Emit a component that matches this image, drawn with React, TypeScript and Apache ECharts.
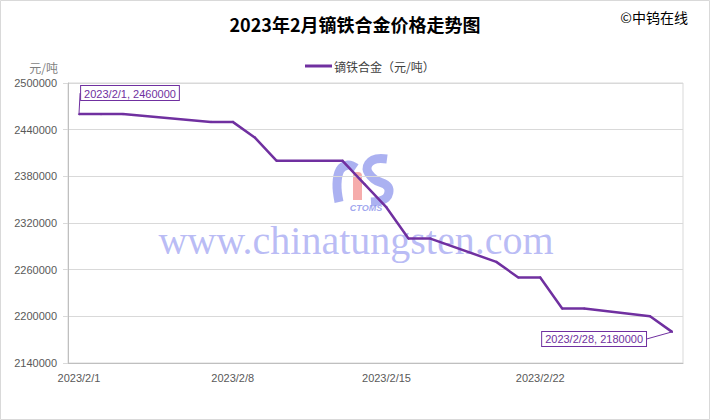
import React, { useEffect, useRef } from "react";
import * as echarts from "echarts";

const TITLE = "2023年2月镝铁合金价格走势图";
const COPYRIGHT = "©中钨在线";
const SERIES_NAME = "镝铁合金（元/吨）";
const Y_UNIT = "元/吨";
const WATERMARK = "www.chinatungsten.com";
const LOGO_TEXT = "CTOMS";

const days = [
  "2023/2/1", "2023/2/2", "2023/2/3", "2023/2/4", "2023/2/5", "2023/2/6", "2023/2/7",
  "2023/2/8", "2023/2/9", "2023/2/10", "2023/2/11", "2023/2/12", "2023/2/13", "2023/2/14",
  "2023/2/15", "2023/2/16", "2023/2/17", "2023/2/18", "2023/2/19", "2023/2/20", "2023/2/21",
  "2023/2/22", "2023/2/23", "2023/2/24", "2023/2/25", "2023/2/26", "2023/2/27", "2023/2/28",
];

const prices: (number | null)[] = [
  2460000, 2460000, 2460000, null, null, null, 2450000,
  2450000, 2430000, 2400000, null, null, 2400000, 2370000,
  2340000, 2300000, 2300000, null, null, 2270000, 2250000,
  2250000, 2210000, 2210000, null, null, 2200000, 2180000,
];

const yMin = 2140000;
const yMax = 2500000;
const yStep = 60000;

const labelledIndices = [0, 27];

const PURPLE = "#7030A0";
const LOGO_BLUE = "#8f97ec";

export default function App() {
  const ref = useRef<HTMLDivElement>(null);

  useEffect(() => {
    if (!ref.current) return;
    const chart = echarts.init(ref.current, null, { renderer: "svg" });

    const seriesData = prices.map((v, i) => {
      if (labelledIndices.includes(i) && v !== null) {
        return {
          value: v,
          label: {
            show: true,
            position: i === 0 ? "top" : "left",
            formatter: (p: any) => `${p.name}, ${p.value}`,
            color: PURPLE,
            fontSize: 11,
            fontFamily: "Liberation Sans, Arial, sans-serif",
            backgroundColor: "#ffffff",
            borderColor: PURPLE,
            borderWidth: 1,
            padding: [2, 3, 1, 3],
          },
        };
      }
      return v;
    });

    chart.setOption({
      animation: false,
      backgroundColor: "#ffffff",
      title: {
        text: TITLE,
        left: "center",
        top: 10,
        textStyle: {
          fontFamily: "Noto Sans CJK SC",
          fontSize: 18,
          fontWeight: "bold",
          color: "#000000",
        },
      },
      legend: {
        top: 55,
        left: 300,
        icon: "rect",
        itemWidth: 27,
        itemHeight: 3,
        itemGap: 10,
        textStyle: {
          fontFamily: "Noto Sans CJK SC",
          fontSize: 12,
          color: "#404040",
          padding: [0, 0, 0, -3],
        },
        data: [SERIES_NAME],
      },
      grid: {
        left: 68,
        right: 27,
        top: 83,
        bottom: 57,
        show: true,
        borderColor: "#d9d9d9",
        borderWidth: 1,
        backgroundColor: "transparent",
      },
      xAxis: {
        type: "category",
        data: days,
        boundaryGap: true,
        axisLine: { show: true, lineStyle: { color: "#bfbfbf", width: 1 } },
        axisTick: { show: false },
        axisLabel: {
          interval: 6,
          color: "#595959",
          fontSize: 11,
          margin: 9,
          fontFamily: "Liberation Sans, Arial, sans-serif",
        },
        splitLine: { show: false },
      },
      yAxis: {
        type: "value",
        min: yMin,
        max: yMax,
        interval: yStep,
        name: Y_UNIT,
        nameLocation: "end",
        nameGap: 10,
        nameTextStyle: {
          fontFamily: "Noto Sans CJK SC",
          fontSize: 12,
          color: "#7f7f7f",
          align: "right",
          padding: [0, 10, 0, 0],
        },
        axisLine: { show: true, lineStyle: { color: "#bfbfbf", width: 1 } },
        axisTick: { show: true, length: 5, lineStyle: { color: "#d9d9d9" } },
        axisLabel: {
          color: "#595959",
          fontSize: 11,
          margin: 11,
          fontFamily: "Liberation Sans, Arial, sans-serif",
          formatter: (v: number) => String(v),
        },
        splitLine: { show: true, lineStyle: { color: "#d9d9d9", width: 1 } },
      },
      graphic: [
        {
          type: "rect",
          silent: true,
          shape: { x: 0.5, y: 0.5, width: 709, height: 419 },
          style: { fill: "none", stroke: "#d9d9d9", lineWidth: 1 },
          z: 100,
        },
        {
          type: "text",
          right: 22,
          top: 10,
          style: {
            text: COPYRIGHT,
            fontFamily: "Noto Sans CJK SC",
            fontSize: 14,
            fill: "#000000",
          },
        },
        {
          type: "group",
          silent: true,
          z: 1,
          children: [
            {
              type: "polyline",
              shape: {
                points: [[339, 202], [337, 184], [340, 170], [348, 165], [356, 168]],
                smooth: 0.4,
              },
              style: { stroke: LOGO_BLUE, lineWidth: 9, fill: "none", opacity: 0.75 },
            },
            {
              type: "rect",
              shape: { x: 353, y: 172, width: 9, height: 28, r: [4, 4, 0, 0] },
              style: { fill: "#f3908f", opacity: 0.75 },
            },
            {
              type: "polyline",
              shape: {
                points: [[387, 159], [373, 160], [367, 169], [374, 179], [388, 187], [386, 198], [371, 202]],
                smooth: 0.4,
              },
              style: { stroke: LOGO_BLUE, lineWidth: 9, fill: "none", opacity: 0.75 },
            },
            {
              type: "text",
              x: 366,
              y: 208,
              style: {
                text: LOGO_TEXT,
                fontFamily: "Liberation Sans, Arial, sans-serif",
                fontSize: 9,
                fontStyle: "italic",
                fontWeight: "bold",
                fill: LOGO_BLUE,
                opacity: 0.85,
                align: "center",
                verticalAlign: "middle",
              },
            },
            {
              type: "text",
              x: 356,
              y: 240,
              style: {
                text: WATERMARK,
                fontFamily: "Liberation Serif, Times New Roman, serif",
                fontSize: 40,
                fill: "#a3a6f2",
                opacity: 0.75,
                align: "center",
                verticalAlign: "middle",
              },
            },
          ],
        },
      ],
      series: [
        {
          name: SERIES_NAME,
          type: "line",
          data: seriesData,
          connectNulls: true,
          showSymbol: true,
          symbol: "circle",
          symbolSize: 2,
          itemStyle: { color: PURPLE },
          lineStyle: { color: PURPLE, width: 2.5 },
          z: 5,
          labelLine: {
            show: true,
            lineStyle: { color: PURPLE, width: 1 },
          },
          labelLayout: (params: any) => {
            if (params.dataIndex === 0) return { dx: 51, dy: -8 };
            return { dx: -20, dy: 7 };
          },
        },
      ],
    });

    return () => chart.dispose();
  }, []);

  return (
    <div
      ref={ref}
      style={{ position: "absolute", left: 0, top: 0, width: 710, height: 420 }}
    />
  );
}
